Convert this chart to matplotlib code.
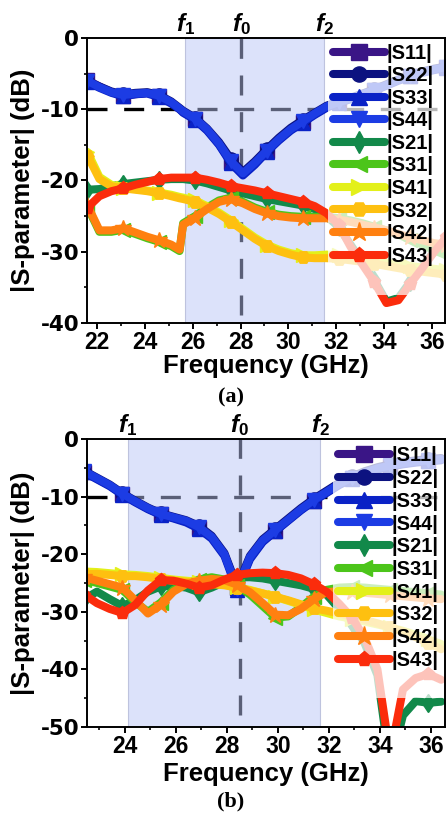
import numpy as np
import matplotlib
matplotlib.use("Agg")
import matplotlib.pyplot as plt
from matplotlib.ticker import MultipleLocator
from matplotlib.patches import Rectangle

plt.rcParams['font.family'] = ['Liberation Sans', 'DejaVu Sans']
plt.rcParams['font.weight'] = 'bold'
plt.rcParams['axes.unicode_minus'] = False
plt.rcParams['mathtext.fontset'] = 'custom'
plt.rcParams['mathtext.it'] = 'Liberation Sans:italic'
plt.rcParams['mathtext.rm'] = 'Liberation Sans'

# ---------------- series styling ----------------
labels = ['|S11|', '|S22|', '|S33|', '|S44|', '|S21|', '|S31|', '|S41|', '|S32|', '|S42|', '|S43|']
colors = ['#3a1586', '#0c1280', '#0a22c6', '#1c3ce4', '#12894a', '#4cc51a', '#e3f01a', '#fec010', '#ff8010', '#fb2c0c']
markers = ['s', 'o', '^', 'v', 'd', '<', '>', 'H', '*', 'p']

# ---------------- panel (a) ----------------
freq_a = [21.6, 22.1, 22.6, 23.1, 23.6, 24.1, 24.6, 25.1, 25.45, 25.6, 26.1, 26.6, 27.1, 27.6, 28.1, 28.6,
          29.1, 29.6, 30.1, 30.6, 31.1, 31.6, 32.1, 32.6, 33.1, 33.6, 34.1, 34.6, 35.1, 35.6, 36.1, 36.6]
mark_a = [21.6, 23.1, 24.6, 26.1, 27.6, 29.1, 30.6, 32.1, 33.6, 35.1, 36.6]
band_a = (25.68, 28.02, 31.5)   # f1, f0, f2

s11_a = [-5.9, -6.8, -7.6, -8.1, -7.9, -7.7, -8.2, -9.1, -10.0, -10.4, -11.4, -12.9, -14.9, -17.4, -19.1, -17.6,
         -15.9, -14.3, -12.9, -11.8, -10.7, -9.7, -9.0, -8.5, -7.9, -7.3, -6.6, -5.9, -5.3, -4.8, -4.4, -4.1]
s22_a = [-6.1, -6.8, -7.5, -7.9, -7.7, -7.6, -8.0, -8.9, -9.8, -10.2, -11.2, -12.7, -14.6, -17.0, -18.8, -17.3,
         -15.6, -14.0, -12.6, -11.5, -10.5, -9.5, -8.9, -8.4, -7.8, -7.2, -6.5, -5.8, -5.2, -4.7, -4.3, -4.0]
s33_a = [-6.2, -7.0, -7.7, -8.2, -7.9, -7.8, -8.3, -9.2, -10.0, -10.5, -11.5, -13.0, -15.0, -17.6, -19.3, -17.8,
         -16.0, -14.4, -13.0, -11.9, -10.8, -9.8, -9.1, -8.6, -8.0, -7.4, -6.7, -6.0, -5.4, -4.9, -4.5, -4.2]
s44_a = [-6.0, -6.9, -7.6, -8.0, -7.8, -7.7, -8.1, -9.0, -9.9, -10.3, -11.3, -12.8, -14.8, -17.3, -19.0, -17.5,
         -15.8, -14.2, -12.8, -11.7, -10.6, -9.6, -9.0, -8.5, -7.9, -7.3, -6.6, -5.9, -5.3, -4.8, -4.4, -4.1]
s21_a = [-21.3, -21.2, -20.8, -20.5, -20.3, -20.1, -19.9, -19.8, -19.8, -19.8, -20.0, -20.4, -20.9, -21.4, -21.8, -22.2,
         -22.6, -22.9, -23.2, -23.5, -24.0, -25.0, -26.5, -29.0, -31.5, -34.0, -37.0, -36.5, -34.2, -32.0, -30.0, -28.2]
s31_a = [-23.7, -27.2, -27.2, -26.9, -27.5, -28.1, -28.6, -29.2, -29.9, -26.0, -25.0, -23.8, -22.8, -22.4, -23.0, -23.8,
         -24.4, -24.8, -25.0, -25.1, -25.1, -25.1, -25.3, -25.6, -26.0, -26.5, -27.0, -27.6, -28.3, -29.0, -29.8, -30.5]
s41_a = [-16.0, -19.5, -20.6, -21.0, -21.2, -21.4, -21.7, -22.0, -22.3, -22.4, -22.8, -23.6, -24.5, -25.6, -26.8, -28.0,
         -29.0, -29.7, -30.2, -30.5, -30.5, -30.4, -30.5, -30.7, -30.9, -31.2, -31.5, -31.8, -32.0, -32.2, -32.4, -32.6]
s32_a = [-16.5, -19.8, -20.8, -21.1, -21.3, -21.5, -21.8, -22.2, -22.5, -22.6, -23.0, -23.8, -24.7, -25.8, -27.0, -28.2,
         -29.2, -29.9, -30.4, -30.8, -30.9, -30.9, -31.0, -31.2, -31.4, -31.7, -32.0, -32.3, -32.6, -32.8, -33.0, -33.2]
s42_a = [-23.5, -27.0, -27.0, -26.7, -27.3, -27.9, -28.4, -29.0, -29.7, -26.2, -25.2, -24.0, -23.0, -22.6, -23.2, -24.0,
         -24.6, -25.0, -25.2, -25.3, -25.3, -25.3, -25.5, -25.8, -26.2, -26.6, -27.0, -27.5, -28.0, -28.4, -28.8, -29.0]
s43_a = [-23.8, -22.2, -21.5, -21.1, -20.6, -20.2, -19.8, -19.6, -19.6, -19.6, -19.6, -19.9, -20.3, -20.8, -21.1, -21.4,
         -21.8, -22.2, -22.6, -23.0, -23.6, -24.6, -26.2, -29.3, -31.8, -34.3, -37.2, -36.8, -34.5, -32.3, -30.0, -28.0]

# ---------------- panel (b) ----------------
freq_b = [22.4, 22.9, 23.4, 23.9, 24.4, 24.9, 25.4, 25.9, 26.4, 26.9, 27.4, 27.9, 28.4, 28.9, 29.4,
          29.9, 30.4, 30.9, 31.4, 31.9, 32.4, 32.9, 33.4, 33.9, 34.4, 34.9, 35.4, 35.9, 36.4]
mark_b = [22.4, 23.9, 25.4, 26.9, 28.4, 29.9, 31.4, 32.9, 34.4, 35.9]
band_b = (24.1, 28.5, 31.65)

s11_b = [-5.7, -6.9, -8.1, -9.6, -10.9, -12.1, -13.1, -13.7, -14.3, -15.4, -17.1, -20.1, -25.8, -20.7, -17.8,
         -16.0, -14.1, -12.3, -10.7, -9.3, -7.9, -6.8, -5.9, -5.2, -4.7, -4.3, -4.0, -3.8, -3.6]
s22_b = [-5.5, -6.7, -7.9, -9.4, -10.7, -11.9, -12.9, -13.5, -14.1, -15.1, -16.8, -19.8, -25.6, -20.3, -17.4,
         -15.6, -13.8, -12.0, -10.4, -9.0, -7.6, -6.5, -5.6, -4.9, -4.4, -4.0, -3.7, -3.5, -3.3]
s33_b = [-5.8, -7.0, -8.2, -9.7, -11.0, -12.2, -13.2, -13.8, -14.5, -15.6, -17.3, -20.3, -26.3, -20.9, -17.9,
         -16.0, -14.2, -12.4, -10.8, -9.4, -8.0, -6.9, -6.0, -5.3, -4.8, -4.4, -4.1, -3.9, -3.7]
s44_b = [-5.6, -6.8, -8.0, -9.5, -10.8, -12.0, -13.0, -13.6, -14.2, -15.3, -17.0, -20.0, -26.0, -20.5, -17.6,
         -15.8, -14.0, -12.2, -10.6, -9.2, -7.8, -6.7, -5.8, -5.1, -4.6, -4.2, -3.9, -3.7, -3.5]
s21_b = [-27.8, -26.5, -27.8, -29.0, -28.0, -26.5, -25.6, -25.5, -25.8, -26.6, -25.8, -24.8, -24.0, -24.0, -24.2,
         -24.6, -25.0, -25.4, -26.0, -27.0, -29.5, -32.0, -35.5, -41.0, -57.0, -48.0, -45.5, -45.8, -45.6]
s31_b = [-24.4, -25.0, -25.6, -26.2, -28.3, -30.0, -28.4, -26.2, -25.0, -24.4, -24.0, -24.4, -25.5, -27.0, -29.0,
         -31.0, -30.8, -29.2, -27.4, -26.2, -25.8, -25.7, -25.8, -26.0, -26.2, -26.4, -26.6, -26.8, -27.0]
s41_b = [-23.0, -23.1, -23.3, -23.5, -23.6, -23.8, -24.1, -24.4, -24.6, -24.8, -25.0, -25.3, -25.7, -26.2, -26.8,
         -27.4, -28.1, -28.8, -29.6, -30.2, -30.8, -31.2, -31.7, -32.2, -32.7, -33.3, -34.0, -34.8, -35.6]
s32_b = [-23.5, -23.4, -23.6, -23.8, -23.8, -24.0, -24.3, -24.6, -24.8, -25.0, -25.2, -25.4, -25.8, -26.3, -26.8,
         -27.4, -28.0, -28.7, -29.4, -29.8, -30.3, -30.8, -31.4, -32.0, -32.7, -33.5, -34.4, -35.4, -36.5]
s42_b = [-24.0, -24.6, -25.2, -25.8, -28.0, -30.3, -28.8, -26.5, -25.2, -24.6, -24.3, -24.5, -25.3, -26.6, -28.5,
         -30.5, -30.6, -29.5, -27.8, -26.6, -26.4, -26.5, -26.7, -26.9, -27.1, -27.3, -27.5, -27.7, -27.8]
s43_b = [-27.0, -28.5, -29.5, -30.2, -28.8, -26.3, -24.5, -24.6, -25.1, -25.8, -25.4, -24.4, -23.6, -23.3, -23.2,
         -23.3, -23.6, -24.2, -25.2, -26.5, -28.6, -31.0, -34.5, -40.0, -55.0, -43.5, -41.5, -40.8, -41.8]

xticks_a = [22, 24, 26, 28, 30, 32, 34, 36]
xticks_b = [24, 26, 28, 30, 32, 34, 36]

W, H = 446, 813
fig = plt.figure(figsize=(W / 100, H / 100), dpi=100)


def px_axes(left, top, right, bottom):
    return fig.add_axes([left / W, 1 - bottom / H, (right - left) / W, (bottom - top) / H])


def draw_panel(ax, freq, series, marks, band, xticks, xlim, ylim, yticks, vline_bottom,
               leg_anchor, leg_spacing, leg_box):
    f1, f0, f2 = band
    # -10 dB reference and centre frequency markers
    ax.hlines(-10, xlim[0], xlim[1], colors='black', lw=2.4, linestyles=(0, (6, 5)), zorder=1)
    ax.vlines(f0, vline_bottom, 0, colors='black', lw=2.4, linestyles=(0, (6, 5)), zorder=1)
    ax.axvspan(f1, f2, facecolor='#b8c4f5', alpha=0.49, edgecolor='#8d96c0', lw=0.8, zorder=1.5)
    idx = [freq.index(m) for m in marks]
    handles = []
    for i, (vals, lab, col, mk) in enumerate(zip(series, labels, colors, markers)):
        ms = 12 if mk == '*' else 9.5
        h, = ax.plot(freq, vals, color=col, lw=5.8, marker=mk, ms=ms, markevery=idx,
                     markeredgecolor=col, solid_joinstyle='round', solid_capstyle='round',
                     label=lab, zorder=2 + i * 0.1)
        handles.append(h)
    # translucent white backing behind the legend, reaching the right spine
    x0, y0, x1, y1 = leg_box
    ax.add_patch(Rectangle((x0, y0), x1 - x0, y1 - y0, transform=ax.transAxes,
                           facecolor='white', alpha=0.72, edgecolor='none', zorder=9,
                           clip_on=False))
    leg = ax.legend(handles=handles, loc='upper right', bbox_to_anchor=leg_anchor,
                    prop={'family': 'Liberation Sans', 'weight': 'bold', 'size': 14.5},
                    handlelength=2.6, handletextpad=0.1, labelspacing=leg_spacing, borderpad=0.15,
                    borderaxespad=0.0, frameon=False, markerscale=1.15)
    leg.set_zorder(10)

    ax.set_xticks(xticks)
    ax.xaxis.set_minor_locator(MultipleLocator(1))
    ax.set_yticks(yticks)
    ax.yaxis.set_minor_locator(MultipleLocator(5))
    ax.set_xlim(*xlim)
    ax.set_ylim(*ylim)
    ax.tick_params(which='major', direction='out', length=4.5, width=1.4)
    ax.tick_params(which='minor', direction='out', length=2.5, width=1.2)
    ax.tick_params(axis='x', which='major', pad=1.0)
    ax.tick_params(axis='y', which='major', pad=1.0)
    for t in ax.get_xticklabels():
        t.set_fontfamily('Liberation Sans')
        t.set_fontweight('bold')
        t.set_fontsize(16.5)
    for t in ax.get_yticklabels():
        t.set_fontfamily('DejaVu Sans')
        t.set_fontweight('bold')
        t.set_fontsize(15.5)
    for s in ax.spines.values():
        s.set_linewidth(1.4)
        s.set_zorder(11)

    for f, name in zip(band, [r'$f_{\mathit{1}}$', r'$f_{\mathit{0}}$', r'$f_{\mathit{2}}$']):
        ax.text(f, 1.005, name, transform=ax.get_xaxis_transform(), ha='center', va='bottom',
                fontsize=17.5)

    ax.set_xlabel('Frequency (GHz)', fontsize=18.5, fontweight='bold', va='center')
    ax.set_ylabel('|S-parameter| (dB)', fontsize=18.5, fontweight='bold', va='center')


ax_a = px_axes(87, 38, 445, 323)
draw_panel(ax_a, freq_a,
           [s11_a, s22_a, s33_a, s44_a, s21_a, s31_a, s41_a, s32_a, s42_a, s43_a],
           mark_a, band_a, xticks_a, (21.58, 36.55), (-40, 0), [0, -10, -20, -30, -40], -38.9,
           (0.978, 0.99), 0.175,
           ((328 - 87) / 358, (323 - 295) / 285, 1.0, 1.0))
ax_a.xaxis.set_label_coords(0.5, -0.15)
ax_a.yaxis.set_label_coords(-0.180, 0.5)

ax_b = px_axes(87, 439, 445, 727)
draw_panel(ax_b, freq_b,
           [s11_b, s22_b, s33_b, s44_b, s21_b, s31_b, s41_b, s32_b, s42_b, s43_b],
           mark_b, band_b, xticks_b, (22.51, 36.55), (-50, 0), [0, -10, -20, -30, -40, -50], -48.0,
           (0.992, 0.985), 0.185,
           ((333 - 87) / 358, (727 - 698) / 288, 1.0, 1.0))
ax_b.xaxis.set_label_coords(0.5, -0.162)
ax_b.yaxis.set_label_coords(-0.180, 0.5)

fig.text(231 / W, 1 - 397 / H, '(a)', family='Liberation Serif', weight='bold', size=16,
         ha='center', va='center')
fig.text(231 / W, 1 - 801 / H, '(b)', family='Liberation Serif', weight='bold', size=16,
         ha='center', va='center')

fig.savefig('out.png', dpi=100)
